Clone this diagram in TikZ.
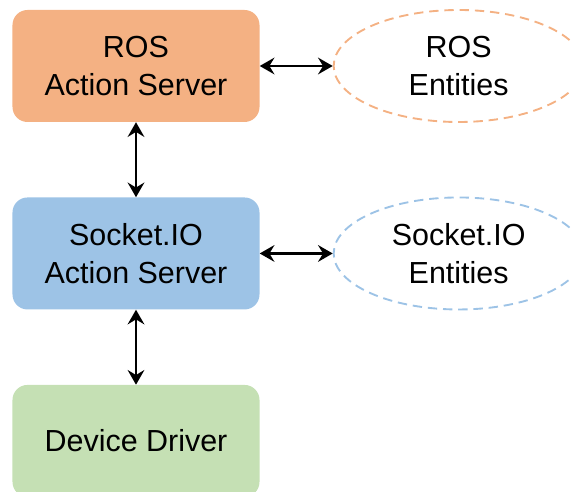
\documentclass[tikz,border=0pt]{standalone}
\usepackage{fontspec}
\setmainfont{Liberation Sans}
\usetikzlibrary{shapes.geometric, arrows.meta, positioning}
\definecolor{naranjaRos}{HTML}{F4B183}
\definecolor{azulSocket}{HTML}{9DC3E6}
\definecolor{verdeDriver}{HTML}{C5E0B4}

\begin{document}
\begin{tikzpicture}[
        node distance=2.25cm and 2.19cm,
        capa/.style={draw=none, rounded corners=0.45cm, minimum width=7.41cm,
            minimum height=3.36cm, align=center, font=\fontsize{26}{33}\selectfont},
        ent/.style={ellipse, dashed, line width=1.6pt, dash pattern=on 8pt off 5pt,
            minimum width=7.5cm, minimum height=3.36cm, align=center,
            font=\fontsize{26}{33}\selectfont},
        rel/.style={{Stealth[length=4.4mm, width=5mm, inset=1.5mm]}-{Stealth[length=4.4mm, width=5mm, inset=1.5mm]}, line width=2.2pt}
    ]
        \useasboundingbox (0,0) rectangle (17.16,-14.76);

        \node[capa, fill=naranjaRos] (ros) at (4.08,-1.98) {ROS\\Action Server};
        \node[capa, fill=azulSocket, below=of ros] (sock) {Socket.IO\\Action Server};
        \node[capa, fill=verdeDriver, below=of sock] (drv) {Device Driver};
        \node[ent, draw=naranjaRos, right=of ros] (rosent) {ROS\\Entities};
        \node[ent, draw=azulSocket, right=of sock] (sockent) {Socket.IO\\Entities};

        \draw[rel] (ros) -- (rosent);
        \draw[rel] (ros) -- (sock);
        \draw[rel] (sock) -- (sockent);
        \draw[rel] (sock) -- (drv);
    \end{tikzpicture}
\end{document}
